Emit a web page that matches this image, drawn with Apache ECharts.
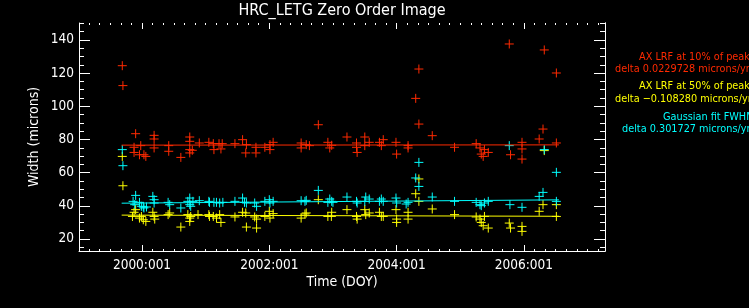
<!DOCTYPE html>
<html>
<head>
<meta charset="utf-8">
<script src="https://cdn.jsdelivr.net/npm/echarts@6/dist/echarts.min.js"></script>
<style>
html,body{margin:0;padding:0;background:#000;}
#chart{width:749px;height:308px;}
</style>
</head>
<body>
<div id="chart"></div>
<script>
// ---- data (fractional year, width in microns) ----
const redPoints = [
[1999.69,124.5],[1999.70,112.5],[1999.875,75.3],[1999.875,72.2],[1999.90,83.5],[1999.98,76.3],[1999.96,70.8],[2000.03,70.8],[2000.06,69.8],
[2000.19,82.5],[2000.19,80.3],[2000.19,74.9],[2000.42,76.3],[2000.42,72.9],[2000.61,69.2],[2000.75,81.5],[2000.75,78.9],[2000.75,73.9],
[2000.75,71.9],[2000.79,73.5],[2000.90,77.9],[2001.05,78.3],[2001.12,77.5],[2001.13,73.9],[2001.21,77.5],[2001.24,74.3],[2001.26,77.5],
[2001.46,77.5],[2001.58,79.9],[2001.64,76.9],[2001.63,71.9],[2001.79,75.3],[2001.79,71.9],[2001.93,75.3],[2002.01,76.9],[2002.01,73.9],
[2002.06,78.3],[2002.50,77.9],[2002.50,74.9],[2002.58,76.9],[2002.63,76.3],[2002.77,88.9],[2002.92,78.3],[2002.95,74.9],[2002.98,76.5],
[2003.22,81.5],[2003.37,77.9],[2003.37,75.3],[2003.38,72.2],[2003.50,81.5],[2003.50,76.3],[2003.57,78.3],[2003.73,78.3],[2003.76,76.3],
[2003.79,79.9],[2003.99,78.3],[2004.00,71.2],[2004.18,76.3],[2004.18,74.9],[2004.35,122.5],[2004.30,104.8],[2004.35,89.3],[2004.56,82.3],
[2004.91,75.3],[2005.25,77.5],[2005.31,74.9],[2005.33,71.2],[2005.36,69.8],[2005.38,73.9],[2005.44,72.2],[2005.77,137.6],[2005.79,70.8],
[2005.97,78.3],[2005.97,74.3],[2005.97,68.2],[2006.24,80.3],[2006.30,86.3],[2006.32,134.0],[2006.51,120.1],[2006.51,77.9]
];
const cyanPoints = [
[1999.69,73.9],[1999.70,64.2],[1999.86,42.7],[1999.885,40.7],[1999.90,46.3],[1999.96,42.1],[1999.99,39.7],[2000.02,39.3],[2000.03,38.7],
[2000.07,39.3],[2000.17,45.7],[2000.19,43.7],[2000.19,41.7],[2000.41,42.1],[2000.435,40.7],[2000.61,38.7],[2000.72,42.7],[2000.75,44.7],
[2000.75,40.7],[2000.765,39.7],[2000.80,42.7],[2000.90,43.1],[2001.05,42.7],[2001.06,42.1],[2001.13,42.1],[2001.17,42.1],[2001.22,41.7],
[2001.27,42.1],[2001.46,42.7],[2001.58,44.7],[2001.61,42.1],[2001.64,41.7],[2001.77,41.7],[2001.80,39.7],[2001.93,42.7],[2002.00,43.7],
[2002.01,41.7],[2002.06,42.7],[2002.50,43.1],[2002.56,42.7],[2002.58,43.3],[2002.77,49.3],[2002.92,42.1],[2002.95,44.1],[2002.98,42.7],
[2003.00,42.1],[2003.22,45.3],[2003.37,42.7],[2003.38,41.7],[2003.50,42.7],[2003.515,45.3],[2003.57,44.1],[2003.73,42.7],[2003.76,44.1],
[2003.79,42.7],[2003.99,44.7],[2004.00,41.7],[2004.18,42.1],[2004.15,41.1],[2004.35,66.2],[2004.30,56.8],[2004.35,51.7],[2004.56,45.3],
[2004.91,42.7],[2005.25,42.1],[2005.31,40.7],[2005.33,40.1],[2005.38,41.7],[2005.44,42.7],[2005.77,76.3],[2005.78,40.7],[2005.97,39.1],
[2006.24,45.7],[2006.30,48.1],[2006.32,73.9],[2006.51,60.2],[2006.51,42.7]
];
const yellowPoints = [
[1999.69,69.8],[1999.70,52.1],[1999.85,33.6],[1999.875,36.1],[1999.90,37.7],[1999.96,32.6],[1999.99,33.6],[2000.02,31.6],[2000.06,30.6],
[2000.17,36.1],[2000.19,33.6],[2000.20,32.0],[2000.41,34.7],[2000.435,35.7],[2000.61,27.2],[2000.72,34.7],[2000.75,32.6],[2000.75,30.6],
[2000.765,33.6],[2000.88,34.7],[2001.05,34.7],[2001.06,33.6],[2001.12,33.6],[2001.17,32.6],[2001.22,34.7],[2001.24,30.0],[2001.46,33.3],
[2001.58,36.1],[2001.63,35.7],[2001.64,27.2],[2001.77,33.3],[2001.80,32.0],[2001.80,26.6],[2001.93,33.6],[2002.00,36.7],[2002.01,32.6],
[2002.06,35.3],[2002.50,32.6],[2002.56,35.1],[2002.58,35.7],[2002.77,43.7],[2002.92,33.6],[2002.975,33.6],[2002.98,36.1],
[2003.22,37.7],[2003.37,33.6],[2003.38,32.0],[2003.50,37.7],[2003.515,34.7],[2003.57,35.7],[2003.73,36.1],[2003.76,33.6],[2003.79,33.6],
[2003.99,37.7],[2004.00,32.0],[2004.00,30.0],[2004.18,36.1],[2004.18,32.0],[2004.35,56.2],[2004.30,47.3],[2004.35,42.7],[2004.56,38.1],
[2004.91,34.7],[2005.25,33.3],[2005.31,32.0],[2005.33,30.0],[2005.36,28.0],[2005.38,33.6],[2005.44,26.6],[2005.77,29.6],[2005.79,26.6],
[2005.97,27.6],[2005.97,24.6],[2006.24,36.7],[2006.30,40.7],[2006.32,73.3],[2006.51,40.7],[2006.51,33.6]
];
// linear fits: [start, end]
const redFit = [[1999.68,76.6],[2006.55,76.75]];
const yellowFit = [[1999.68,34.4],[2006.55,33.7]];
const cyanFit = [[1999.68,41.6],[2006.55,43.6]];
// axis tick labels
const xMajor = [2000, 2002, 2004, 2006];
const yMajor = [20, 40, 60, 80, 100, 120, 140];
const legendLines = [
  ['AX LRF at 10% of peak', 'delta 0.0229728 microns/yr'],
  ['AX LRF at 50% of peak', 'delta \u22120.108280 microns/yr'],
  ['Gaussian fit FWHM', 'delta 0.301727 microns/yr']
];

const RED = '#ff2a00', YEL = '#ffff00', CYA = '#00ffff';
const FONT = "'DejaVu Sans Condensed', 'DejaVu Sans', sans-serif";
const X0 = 1999.01, X1 = 2007.274, Y0 = 12.76, Y1 = 150.25;

const xMinor = []; for (let i = 0; i <= 49; i++) xMinor.push(1999 + i / 6);
const yMinor = []; for (let v = 15; v <= 150; v += 5) yMinor.push(v);

const chart = echarts.init(document.getElementById('chart'));
const grid = { left: 79, top: 23, right: 144, bottom: 57 };
function xAx(pos, ticks, len, labels) {
  return {
    type: 'value', position: pos, min: X0, max: X1, gridIndex: 0,
    axisLine: { show: labels, lineStyle: { color: '#fff', width: 1 } },
    axisTick: { show: true, inside: true, length: len, customValues: ticks, lineStyle: { color: '#fff' } },
    axisLabel: labels ? { show: true, customValues: xMajor, color: '#fff', fontFamily: FONT, fontSize: 13.5, margin: 7,
      formatter: v => Math.round(v) + ':001' } : { show: false },
    splitLine: { show: false }
  };
}
function yAx(pos, ticks, len, labels) {
  return {
    type: 'value', position: pos, min: Y0, max: Y1, gridIndex: 0,
    axisLine: { show: labels || pos === 'right', lineStyle: { color: '#fff', width: 1 } },
    axisTick: { show: true, inside: true, length: len, customValues: ticks, lineStyle: { color: '#fff' } },
    axisLabel: labels ? { show: true, customValues: yMajor, color: '#fff', fontFamily: FONT, fontSize: 13.5, margin: 5 } : { show: false },
    splitLine: { show: false }
  };
}
function cross(name, data, color) {
  return {
    name, type: 'scatter', data, xAxisIndex: 0, yAxisIndex: 0,
    symbol: 'path://M0,5L10,5M5,0L5,10', symbolSize: 9,
    itemStyle: { color: 'rgba(0,0,0,0)', borderColor: color, borderWidth: 1, opacity: 1 },
    silent: true
  };
}
function fit(data, color) {
  return { type: 'line', data, xAxisIndex: 0, yAxisIndex: 0, showSymbol: false, symbol: 'none',
    lineStyle: { color, width: 1 }, silent: true, z: 3 };
}
const legendColors = [RED, YEL, CYA];
const legendX = [[639, 615], [639, 615], [663, 622]];
const legendY = [[56.7, 69.3], [85.7, 99.3], [117.5, 129.3]];
const graphics = [
  { type: 'text', x: 342, y: 11, style: { text: 'HRC_LETG Zero Order Image', fill: '#fff', font: '16px ' + FONT, textAlign: 'center', textVerticalAlign: 'middle' } },
  { type: 'text', x: 342, y: 282, style: { text: 'Time (DOY)', fill: '#fff', font: '14px ' + FONT, textAlign: 'center', textVerticalAlign: 'middle' } },
  { type: 'text', x: 34, y: 137, rotation: Math.PI / 2, style: { text: 'Width (microns)', fill: '#fff', font: '14px ' + FONT, textAlign: 'center', textVerticalAlign: 'middle' } }
];
legendLines.forEach((pair, i) => {
  pair.forEach((t, j) => {
    graphics.push({ type: 'text', x: legendX[i][j], y: legendY[i][j],
      style: { text: t, fill: legendColors[i], font: '10.8px ' + FONT, textAlign: 'left', textVerticalAlign: 'middle' } });
  });
});

chart.setOption({
  backgroundColor: '#000',
  animation: false,
  grid: [grid],
  xAxis: [xAx('bottom', xMinor, 2, true), xAx('bottom', xMajor, 6, false), xAx('top', xMinor, 2, false), xAx('top', xMajor, 6, false)],
  yAxis: [yAx('left', yMinor, 5, true), yAx('left', yMajor, 11, false), yAx('right', yMinor, 5, false), yAx('right', yMajor, 11, false)],
  series: [
    cross('AX LRF at 10% of peak', redPoints, RED),
    cross('AX LRF at 50% of peak', yellowPoints, YEL),
    cross('Gaussian fit FWHM', cyanPoints, CYA),
    fit(redFit, RED), fit(yellowFit, YEL), fit(cyanFit, CYA)
  ],
  graphic: graphics
});
</script>
</body>
</html>
